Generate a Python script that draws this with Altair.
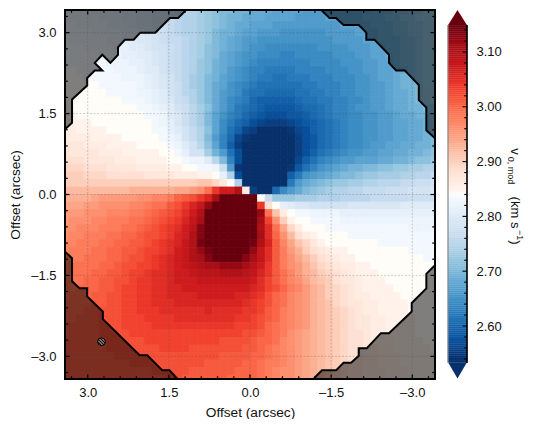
import altair as alt
import pandas as pd

# velocity map, each number n is v0 = 2.50 + n/100 km/s, rows top to bottom, columns left to right
grid = [
[31,31,31,31,30,30,30,29,29,29,28,28,27,27,26,25,25,24,23,22,21,20,20,19,19,18,18,18,17,17,17,17,16,16,16,16,17,17,17,17,17,18,18,18,19,19,20,20,21,21],
[31,31,31,31,31,30,30,30,29,29,28,28,27,27,26,25,24,24,23,22,21,20,19,19,18,18,18,17,17,17,17,16,16,16,16,17,17,17,17,17,18,18,18,19,19,20,20,21,21,21],
[32,32,31,31,31,31,30,30,30,29,28,28,27,27,26,25,24,24,23,22,21,20,19,18,18,17,17,17,16,16,16,16,16,16,16,16,16,17,17,17,17,18,18,18,19,19,20,20,21,21],
[32,32,32,32,31,31,31,31,30,30,29,28,28,27,26,25,24,24,23,22,20,19,19,18,17,17,16,16,16,15,15,15,15,15,15,16,16,16,16,17,17,17,18,18,19,19,20,20,21,21],
[33,32,32,32,32,32,31,31,30,30,29,29,28,27,26,26,25,24,23,22,20,19,18,17,16,16,15,15,15,15,15,15,15,15,15,15,16,16,16,16,17,17,18,18,18,19,19,20,21,21],
[33,33,33,32,32,32,32,31,31,30,30,29,28,28,27,26,25,24,23,21,20,19,18,17,16,15,15,14,14,14,14,14,14,14,15,15,15,15,16,16,16,17,17,18,18,19,19,20,21,21],
[33,33,33,33,33,32,32,32,31,31,30,30,29,28,27,26,25,24,23,21,20,18,17,16,15,15,14,14,14,13,13,14,14,14,14,14,15,15,15,16,16,17,17,18,18,19,19,20,21,21],
[33,33,33,33,33,33,32,32,32,31,31,30,29,28,27,26,25,24,22,21,19,18,17,16,15,14,13,13,13,13,13,13,13,14,14,14,14,15,15,15,16,16,17,17,18,19,19,20,21,21],
[34,34,33,33,33,33,33,32,32,32,31,30,30,28,27,26,25,24,22,21,19,18,16,15,14,13,13,12,12,12,12,13,13,13,13,14,14,14,15,15,16,16,17,17,18,18,19,20,21,21],
[34,34,34,33,33,33,33,33,32,32,32,31,30,29,28,26,25,23,22,20,19,17,16,15,14,13,12,12,11,11,12,12,12,13,13,13,14,14,14,15,15,16,17,17,18,19,19,20,21,21],
[34,34,34,34,34,33,33,33,33,33,32,31,30,29,28,27,25,23,22,20,18,17,15,14,13,12,11,11,11,11,11,11,12,12,13,13,13,14,14,15,15,16,16,17,18,19,19,20,21,21],
[34,34,34,34,34,34,33,33,33,33,32,32,31,30,28,27,25,24,22,20,18,16,15,14,12,11,11,10,10,10,10,11,11,12,12,13,13,14,14,15,15,16,16,17,18,18,19,20,21,21],
[34,34,34,34,34,34,34,34,33,33,33,32,31,30,29,27,26,24,22,20,18,16,14,13,12,10,9,9,9,9,9,10,11,11,12,12,13,13,14,14,15,16,16,17,18,18,19,20,21,22],
[35,34,34,34,34,34,34,34,34,34,33,33,32,31,30,28,27,25,23,21,18,16,14,12,11,10,9,8,8,8,8,9,10,10,11,12,13,13,14,15,15,16,16,17,18,18,19,19,20,20],
[35,35,34,34,34,34,34,34,34,34,34,33,33,32,30,29,27,25,23,20,17,15,13,12,10,9,8,7,7,7,8,8,9,10,11,12,13,13,14,14,15,15,16,16,17,18,18,19,19,20],
[35,35,35,35,34,34,34,34,34,34,34,34,33,32,31,29,27,25,23,20,17,14,12,10,9,7,6,5,5,5,6,7,8,9,10,11,12,13,14,14,15,15,16,16,17,17,18,18,19,20],
[36,36,35,35,35,35,34,34,34,34,34,34,33,33,31,30,28,26,24,21,17,14,11,9,6,5,3,3,3,3,4,6,7,9,10,11,12,13,14,14,15,15,16,16,17,17,18,18,19,20],
[37,36,36,36,35,35,35,35,34,34,34,34,34,33,32,31,28,26,24,20,16,13,10,6,4,3,3,3,3,3,3,5,7,8,10,11,12,13,14,14,15,15,16,16,17,17,18,18,19,20],
[37,37,37,36,36,36,35,35,35,35,34,34,34,34,33,32,30,28,25,21,17,13,9,5,3,3,3,3,3,3,3,5,7,8,10,11,12,13,14,14,15,16,16,17,17,18,18,19,19,20],
[38,37,37,37,37,36,36,36,35,35,35,35,35,34,34,33,31,28,28,23,19,16,11,7,3,3,3,3,3,3,3,5,7,9,11,12,13,14,15,15,16,16,17,17,18,18,19,19,20,21],
[38,38,38,37,37,37,37,36,36,36,35,35,35,35,34,34,33,32,32,30,25,20,13,7,3,3,3,3,3,3,3,6,9,11,13,14,15,16,16,17,17,17,18,18,19,19,20,21,21,22],
[39,39,39,38,38,38,37,37,37,37,36,36,36,36,35,35,34,34,33,33,32,27,16,4,3,3,3,3,3,3,4,8,11,13,15,16,17,18,19,19,20,20,21,21,22,22,23,23,24,24],
[40,40,40,39,39,39,38,38,38,38,38,37,37,37,37,36,36,36,35,35,34,31,24,7,3,3,3,3,3,3,9,12,15,16,17,18,19,20,20,21,22,22,23,23,23,24,24,25,25,26],
[40,40,40,40,40,40,40,40,40,40,40,40,40,40,40,40,40,40,41,41,39,37,34,24,3,3,3,3,3,3,12,16,18,19,20,21,22,22,23,23,24,24,25,25,25,26,26,27,27,28],
[42,42,42,42,42,42,42,42,42,43,43,43,43,43,43,44,44,45,46,49,54,57,57,60,36,5,3,3,10,14,16,18,20,21,22,23,24,24,25,25,26,26,26,27,27,27,28,28,28,29],
[43,43,43,43,44,45,45,45,45,45,46,46,47,47,48,50,51,52,54,56,61,65,65,65,65,65,34,26,22,22,22,23,23,23,24,24,24,25,25,25,25,26,26,26,26,26,27,27,27,27],
[44,44,44,45,45,46,46,46,46,47,47,48,49,49,51,52,54,56,58,62,65,65,65,65,65,65,54,38,34,31,30,29,29,28,28,28,28,28,29,29,29,29,29,29,29,30,30,30,30,30],
[45,45,45,46,46,46,47,47,47,48,48,49,50,51,52,53,55,57,60,65,65,65,65,65,65,65,62,49,41,36,34,33,33,32,32,32,32,31,31,31,31,31,31,31,31,31,31,31,31,31],
[45,46,46,46,47,47,48,48,48,49,49,50,51,52,53,54,56,58,61,65,65,65,65,65,65,65,61,53,46,40,35,34,34,33,33,33,33,32,32,32,32,32,32,32,32,32,32,32,32,32],
[46,46,47,47,47,48,48,48,49,49,50,51,52,53,54,55,57,59,63,65,65,65,65,65,65,65,60,55,49,44,39,36,34,34,34,33,33,33,33,33,33,33,33,33,33,33,32,32,32,32],
[46,47,47,48,48,48,49,49,50,50,51,52,52,53,54,56,57,60,63,65,65,65,65,65,65,65,61,55,50,46,42,38,36,35,34,34,34,34,33,33,33,33,33,33,33,33,33,33,33,33],
[47,47,48,48,48,49,49,50,50,51,51,52,53,54,55,56,58,60,64,65,65,65,65,65,65,64,60,56,51,47,44,41,39,37,35,34,34,34,34,34,34,34,33,33,33,33,33,33,33,33],
[47,48,48,48,49,49,50,50,51,51,52,53,53,54,55,57,58,60,62,64,65,65,65,65,65,62,58,55,51,48,45,43,40,38,37,36,35,35,34,34,34,34,34,34,34,34,33,33,33,33],
[48,48,48,49,49,49,50,50,51,52,52,53,54,55,56,57,58,60,61,63,65,65,65,65,63,61,58,55,51,48,46,44,42,40,38,37,36,35,35,34,34,34,34,34,34,34,34,34,33,33],
[48,49,49,49,49,50,50,51,52,52,53,53,54,55,56,57,58,59,60,61,61,62,62,62,61,59,57,54,51,48,46,45,43,41,39,38,37,36,36,35,35,34,34,34,34,34,34,34,34,34],
[48,49,49,49,50,50,51,51,52,53,53,54,55,55,56,57,57,58,59,59,59,60,60,60,59,58,56,54,51,49,47,45,43,42,40,39,38,37,36,35,35,35,34,34,34,34,34,34,34,34],
[49,49,49,50,50,51,51,52,52,53,54,54,55,55,56,57,57,57,58,58,58,58,58,58,58,57,55,53,51,49,47,46,44,42,41,40,38,37,37,36,35,35,35,34,34,34,34,34,34,34],
[49,49,50,50,50,51,51,52,53,53,54,54,55,55,56,56,57,57,57,57,57,57,57,57,57,56,55,53,52,50,48,47,45,43,42,40,39,38,37,36,35,35,35,35,34,34,34,34,34,34],
[49,50,50,50,51,51,52,52,53,53,54,54,55,55,56,56,56,56,57,57,57,57,57,56,56,55,54,52,50,49,47,46,45,43,42,40,39,38,37,36,36,35,35,35,35,34,34,34,34,34],
[50,50,50,50,51,51,52,52,53,53,54,54,55,55,55,56,56,56,56,56,56,56,56,56,55,54,53,52,50,49,47,46,45,43,42,41,39,38,37,37,36,36,35,35,35,35,34,34,34,34],
[50,50,50,51,51,52,52,52,53,53,54,54,54,55,55,55,55,55,55,56,55,55,55,55,54,54,53,51,50,48,47,46,45,43,42,41,40,39,38,37,36,36,35,35,35,35,34,34,34,34],
[50,50,51,51,51,52,52,52,53,53,53,54,54,54,54,55,55,55,55,55,55,55,55,54,54,53,52,51,50,48,47,46,45,43,42,41,40,39,38,37,37,36,36,35,35,35,35,34,34,34],
[50,51,51,51,51,52,52,52,53,53,53,53,54,54,54,54,54,54,54,54,54,54,54,53,53,53,52,50,49,48,47,46,45,43,42,41,40,39,38,37,37,36,36,35,35,35,35,34,34,34],
[50,51,51,51,51,52,52,52,52,53,53,53,53,53,53,53,53,53,53,53,53,53,53,53,52,52,51,50,49,48,46,45,44,43,42,41,40,39,38,38,37,36,36,35,35,35,35,34,34,34],
[51,51,51,51,51,51,52,52,52,52,52,53,53,53,53,53,53,53,53,53,53,52,52,52,52,51,50,50,49,47,46,45,44,43,42,41,40,39,38,38,37,36,36,36,35,35,35,35,34,34],
[51,51,51,51,51,51,52,52,52,52,52,52,52,53,53,53,53,52,52,52,52,52,52,52,51,51,50,49,48,47,46,45,44,43,42,41,40,39,38,38,37,37,36,36,35,35,35,35,35,34],
[51,51,51,51,51,51,51,52,52,52,52,52,52,52,52,52,52,52,52,52,52,51,51,51,51,50,50,49,48,47,46,45,44,43,42,41,40,39,38,38,37,37,36,36,36,35,35,35,35,35],
[51,51,51,51,51,51,51,51,51,52,52,52,52,52,52,52,52,52,52,51,51,51,51,51,50,50,49,48,48,47,46,45,44,43,42,41,40,39,38,38,37,37,36,36,36,35,35,35,35,35],
[51,51,51,51,51,51,51,51,51,51,51,51,52,52,52,52,52,51,51,51,51,51,51,50,50,50,49,48,47,46,46,45,44,43,42,41,40,39,38,38,37,37,37,36,36,36,35,35,35,35],
[51,51,51,51,51,51,51,51,51,51,51,51,51,51,52,52,51,51,51,51,51,51,50,50,50,50,49,48,47,46,46,45,44,43,42,41,40,39,38,38,37,37,37,36,36,36,35,35,35,35],
]
for row in grid:
    assert len(row) == 50, len(row)
assert len(grid) == 50

# mask contour corners, arcsec
tl_x = [3.60,3.43,3.29,3.29,3.01,3.01,2.87,2.73,2.87,2.73,2.58,2.44,2.44,2.31,2.15,2.03,1.75,1.48,1.33,1.20,1.06,3.60]
tl_y = [1.06,1.20,1.33,1.76,2.02,2.16,2.30,2.30,2.44,2.59,2.44,2.59,2.73,2.87,2.87,3.00,3.00,3.27,3.27,3.40,3.60,3.60]
tr_x = [-1.20,-1.33,-1.47,-1.59,-1.73,-2.01,-2.15,-2.15,-2.30,-2.57,-2.57,-2.70,-2.86,-3.12,-3.12,-3.26,-3.26,-3.41,-3.60,-3.60]
tr_y = [3.60,3.41,3.27,3.27,3.14,3.14,3.00,2.87,2.87,2.59,2.44,2.30,2.30,2.03,1.75,1.61,1.19,1.05,0.90,3.60]
bl_x = [3.60,3.43,3.29,3.29,3.15,3.01,3.01,2.72,2.72,2.04,1.90,1.62,1.49,1.35,1.20,3.60]
bl_y = [-0.90,-1.05,-1.18,-1.61,-1.74,-1.74,-1.89,-2.17,-2.31,-2.98,-2.98,-3.26,-3.26,-3.41,-3.60,-3.60]
br_x = [-1.05,-1.19,-1.33,-1.59,-1.73,-1.87,-2.01,-2.01,-2.16,-2.42,-2.57,-2.99,-2.99,-3.26,-3.26,-3.40,-3.60,-3.60]
br_y = [-3.60,-3.40,-3.26,-3.26,-3.12,-3.12,-2.99,-2.85,-2.85,-2.57,-2.57,-2.17,-2.01,-1.74,-1.47,-1.33,-1.15,-3.60]

major_ticks = [3.0, 1.5, 0.0, -1.5, -3.0]
minor_ticks = [3.3, 2.7, 2.4, 2.1, 1.8, 1.2, 0.9, 0.6, 0.3, -0.3, -0.6, -0.9, -1.2, -1.8, -2.1, -2.4, -2.7, -3.3]
cbar_major = [2.60, 2.70, 2.80, 2.90, 3.00, 3.10]
cbar_minor = [2.54, 2.56, 2.58, 2.62, 2.64, 2.66, 2.68, 2.72, 2.74, 2.76, 2.78, 2.82, 2.84, 2.86, 2.88,
              2.92, 2.94, 2.96, 2.98, 3.02, 3.04, 3.06, 3.08, 3.12, 3.14]
beam_x = [2.745]
beam_y = [-2.73]

FONT = "Liberation Sans"
W, H = 370, 369
CB_W = 19
LIM = 3.42
CELL = 0.1394
VMIN, VMID, VMAX = 2.534, 2.84, 3.149

blues = ["#08306b", "#08519c", "#2171b5", "#4292c6", "#6baed6", "#9ecae1", "#c6dbef", "#deebf7", "#f7fbff"]
reds = ["#fff5f0", "#fee0d2", "#fcbba1", "#fc9272", "#fb6a4a", "#ef3b2c", "#cb181d", "#a50f15", "#67000d"]
c_dom = [VMIN + (VMID - 0.004 - VMIN) * k / 8 for k in range(9)] + [VMID] + \
        [VMID + 0.004 + (VMAX - VMID - 0.004) * k / 8 for k in range(9)]
c_rng = blues + ["#ffffff"] + reds
cscale = alt.Scale(domain=c_dom, range=c_rng, clamp=True)

cells = pd.DataFrame([
    {"x0": (25 - c) * CELL, "x1": (24 - c) * CELL, "y0": (25 - r) * CELL, "y1": (24 - r) * CELL, "v": 2.5 + n / 100}
    for r, row in enumerate(grid) for c, n in enumerate(row)
])

xs = alt.Scale(domain=[LIM, -LIM], nice=False, zero=False)
ys = alt.Scale(domain=[-LIM, LIM], nice=False, zero=False)
label_expr = "datum.value < 0 ? '\u2013' + format(-datum.value, '.1f') : format(datum.value, '.1f')"

common_axis = dict(values=major_ticks, title="Offset (arcsec)", labelExpr=label_expr, grid=False,
                   ticks=False, domain=False, labelFontSize=13, titleFontSize=13.7, labelFont=FONT,
                   titleFont=FONT, titleFontWeight="normal", labelColor="#111", titleColor="#111", labelFlush=False)
xaxis = alt.Axis(labelPadding=7, titlePadding=6, **common_axis)
yaxis = alt.Axis(labelPadding=9, titlePadding=8, **common_axis)

heat = alt.Chart(cells).mark_rect(strokeWidth=0.8, clip=True).encode(
    x=alt.X("x0:Q", scale=xs, axis=xaxis),
    x2="x1:Q",
    y=alt.Y("y0:Q", scale=ys, axis=yaxis),
    y2="y1:Q",
    color=alt.Color("v:Q", scale=cscale, legend=None),
    stroke=alt.Stroke("v:Q", scale=cscale, legend=None),
)

corners = pd.concat([
    pd.DataFrame({"x": tl_x, "y": tl_y, "k": "tl"}),
    pd.DataFrame({"x": tr_x, "y": tr_y, "k": "tr"}),
    pd.DataFrame({"x": bl_x, "y": bl_y, "k": "bl"}),
    pd.DataFrame({"x": br_x, "y": br_y, "k": "br"}),
]).reset_index(names="i")
mask = alt.Chart(corners).mark_line(fill="black", fillOpacity=0.5, stroke="black", strokeWidth=2, clip=True).encode(
    x=alt.X("x:Q", scale=xs, axis=xaxis), y=alt.Y("y:Q", scale=ys, axis=yaxis),
    detail="k:N", order="i:Q",
)

mdf = pd.DataFrame({"v": major_ticks})
ndf = pd.DataFrame({"v": minor_ticks})
vx = alt.X("v:Q", scale=xs, axis=xaxis)
vy = alt.Y("v:Q", scale=ys, axis=yaxis)
grid_style = dict(stroke="#555555", strokeWidth=0.5, strokeDash=[2, 1.5], opacity=0.55)
grid_x = alt.Chart(mdf).mark_rule(**grid_style).encode(x=vx)
grid_y = alt.Chart(mdf).mark_rule(**grid_style).encode(y=vy)

def ticks(df, n):
    s = dict(color="black", strokeWidth=1.2)
    return [
        alt.Chart(df).mark_rule(**s).encode(x=vx, y=alt.value(H), y2=alt.value(H - n)),
        alt.Chart(df).mark_rule(**s).encode(x=vx, y=alt.value(0), y2=alt.value(n)),
        alt.Chart(df).mark_rule(**s).encode(y=vy, x=alt.value(0), x2=alt.value(n)),
        alt.Chart(df).mark_rule(**s).encode(y=vy, x=alt.value(W), x2=alt.value(W - n)),
    ]

stripes = []
for k in range(5):
    stripes += [alt.GradientStop(color="#111111", offset=k / 5), alt.GradientStop(color="#111111", offset=(k + 0.55) / 5),
                alt.GradientStop(color="#7a6a62", offset=(k + 0.55) / 5), alt.GradientStop(color="#7a6a62", offset=(k + 1) / 5)]
beam = alt.Chart(pd.DataFrame({"x": beam_x, "y": beam_y})).mark_point(
    shape="circle", size=60, filled=True, opacity=1, stroke="black", strokeWidth=1,
    fill=alt.LinearGradient(gradient="linear", stops=stripes, x1=0, y1=1, x2=1, y2=0),
).encode(x=alt.X("x:Q", scale=xs, axis=xaxis), y=alt.Y("y:Q", scale=ys, axis=yaxis))

frame = alt.Chart(pd.DataFrame({"a": [0]})).mark_rect(filled=False, stroke="black", strokeWidth=2).encode(
    x=alt.value(0), x2=alt.value(W), y=alt.value(0), y2=alt.value(H))

main = alt.layer(heat, mask, grid_x, grid_y, *ticks(mdf, 4.5), *ticks(ndf, 2.8), beam, frame).properties(width=W, height=H)

# colour bar
CB_TOP, CB_BOT = 3.1766, 2.5033
cys = alt.Scale(domain=[CB_BOT, CB_TOP], nice=False, zero=False)
cbx = alt.Scale(domain=[0, 1], nice=False, zero=False)
cb_axis = alt.Axis(values=cbar_major, format=".2f", orient="right", title=None, grid=False,
                   ticks=False, domain=False, labelPadding=9, labelFontSize=13,
                   labelFont=FONT, labelColor="#111")
steps = [VMIN + (VMAX - VMIN) * k / 160 for k in range(161)]
cb_df = pd.DataFrame({"a": steps[:-1], "b": steps[1:], "x0": 0, "x1": 1})
cb_rect = alt.Chart(cb_df).mark_rect(strokeWidth=0.4).encode(
    x=alt.X("x0:Q", scale=cbx, axis=None), x2="x1:Q",
    y=alt.Y("a:Q", scale=cys, axis=cb_axis),
    y2="b:Q",
    color=alt.Color("a:Q", scale=cscale, legend=None),
    stroke=alt.Stroke("a:Q", scale=cscale, legend=None),
)
tri_top = pd.DataFrame({"x": [0, 0.5, 1], "y": [VMAX, 3.1766, VMAX], "y2": [VMAX, VMAX, VMAX]})
tri_bot = pd.DataFrame({"x": [0, 0.5, 1], "y": [VMIN, 2.5040, VMIN], "y2": [VMIN, VMIN, VMIN]})
def tri(df, col):
    return alt.Chart(df).mark_area(color=col, line=False).encode(
        x=alt.X("x:Q", scale=cbx, axis=None), y=alt.Y("y:Q", scale=cys, axis=cb_axis), y2="y2:Q")
edge_r = alt.Chart(pd.DataFrame({"a": [0]})).mark_rule(stroke="black", strokeWidth=1.6).encode(
    x=alt.value(CB_W), y=alt.value(15), y2=alt.value(353))
edge_l = alt.Chart(pd.DataFrame({"a": [0]})).mark_rule(stroke="#888888", strokeWidth=1.2).encode(
    x=alt.value(0), y=alt.value(15), y2=alt.value(353))

def cb_ticks(vals, n):
    return alt.Chart(pd.DataFrame({"v": vals})).mark_rule(color="black", strokeWidth=1.1).encode(
        y=alt.Y("v:Q", scale=cys, axis=cb_axis), x=alt.value(CB_W), x2=alt.value(CB_W - n))

def label(txt, x, y, size):
    return alt.Chart(pd.DataFrame({"t": [txt]})).mark_text(
        font=FONT, fontSize=size, angle=90, align="center", baseline="middle", color="#111").encode(
        text="t:N", x=alt.value(x), y=alt.value(y))

titles = [
    label("v", 66.5, 141.5, 13),
    label("0, mod", 62.5, 160.5, 9),
    label("(km s", 67, 202.5, 13),
    label("\u22121", 71.5, 225, 9),
    label(")", 67, 232.5, 13),
]

cbar = alt.layer(cb_rect, tri(tri_top, "#67000d"), tri(tri_bot, "#08306b"), edge_l, edge_r,
                 cb_ticks(cbar_major, 4.5), cb_ticks(cbar_minor, 2.8), *titles).properties(width=CB_W, height=H)

chart = alt.hconcat(main, cbar, spacing=11).properties(
    padding={"left": 0, "top": 1, "right": 0, "bottom": 0}
).configure_view(stroke=None)

chart.save("out.html", embed_options={"renderer": "svg", "actions": False})
